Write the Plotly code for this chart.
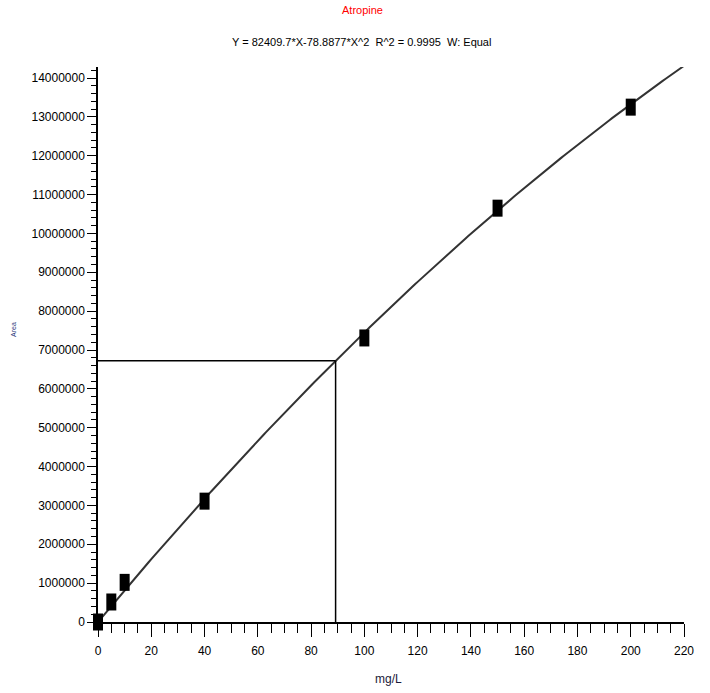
import numpy as np
import plotly.graph_objects as go

# Calibration standards (concentration in mg/L, peak area)
conc = [0, 5, 10, 40, 100, 150, 200]
area = [0, 515000, 1020000, 3110000, 7310000, 10650000, 13250000]

# Quadratic fit through origin: Y = b1*X + b2*X^2
b1 = 82409.7
b2 = -78.8877
r2 = 0.9995

# Unknown sample
sample_conc = 89.2

x_ticks = list(range(0, 221, 20))
y_ticks = list(range(0, 14000001, 1000000))

W, H = 710, 693
ML, MR, MT, MB = 78, 26, 67, 51
PAD = 20  # extra room so the marker boxes at the origin are not cut off
X_MAX = 220
Y_MAX = 14283000

plot_w = W - ML - MR
plot_h = H - MT - MB
main_w = plot_w - PAD
main_h = plot_h - PAD
dom_x0 = PAD / plot_w
dom_y0 = PAD / plot_h


def px(xp):
    return (xp - ML) / plot_w


def py(yp):
    return (H - MB - yp) / plot_h


fit_x = np.linspace(0, X_MAX, 221)
fit_y = b1 * fit_x + b2 * fit_x ** 2
sample_area = b1 * sample_conc + b2 * sample_conc ** 2

font = "Liberation Sans, Arial, sans-serif"

fig = go.Figure()
fig.add_trace(go.Scatter(
    x=fit_x, y=fit_y, mode="lines",
    line=dict(color="#333333", width=2),
    xaxis="x", yaxis="y", showlegend=False, hoverinfo="skip",
))

shapes = []
# sample crosshair
shapes.append(dict(type="line", xref="x", yref="y", x0=0, x1=sample_conc,
                   y0=sample_area, y1=sample_area, layer="above",
                   line=dict(color="black", width=1.5)))
shapes.append(dict(type="line", xref="x", yref="y", x0=sample_conc, x1=sample_conc,
                   y0=0, y1=sample_area, layer="above",
                   line=dict(color="black", width=1.5)))
# standards as filled boxes, drawn on the padded overlay axes
for cx, cy in zip(conc, area):
    shapes.append(dict(type="rect", xref="x2", yref="y2", layer="above",
                       xsizemode="pixel", xanchor=cx, x0=-5, x1=5,
                       ysizemode="pixel", yanchor=cy, y0=-8.5, y1=8.5,
                       fillcolor="black", line=dict(width=0)))

x2_lo = -PAD * X_MAX / main_w
y2_lo = -PAD * Y_MAX / main_h

tickfont = dict(family=font, size=12, color="black")

fig.update_layout(
    width=W, height=H,
    margin=dict(l=ML, r=MR, t=MT, b=MB, pad=0),
    paper_bgcolor="white", plot_bgcolor="rgba(0,0,0,0)",
    showlegend=False,
    xaxis=dict(domain=[dom_x0, 1], range=[0, X_MAX], anchor="y",
               tickvals=x_ticks, ticks="outside", ticklen=13, tickwidth=1.2,
               tickcolor="black", showline=True, linecolor="black", linewidth=1.5,
               showgrid=False, zeroline=False, tickfont=tickfont,
               ticklabelstandoff=4,
               minor=dict(dtick=5, tick0=0, ticks="outside", ticklen=9,
                          tickcolor="black", tickwidth=1.2)),
    yaxis=dict(domain=[dom_y0, 1], range=[0, Y_MAX], anchor="x",
               tickvals=y_ticks, tickformat="d", ticks="outside", ticklen=9,
               tickwidth=1.2, tickcolor="black", showline=True, linecolor="black",
               linewidth=1.5, showgrid=False, zeroline=False, tickfont=tickfont,
               minor=dict(dtick=200000, tick0=0, ticks="outside", ticklen=5,
                          tickcolor="black", tickwidth=1.2)),
    xaxis2=dict(domain=[0, 1], range=[x2_lo, X_MAX], anchor="y2", visible=False,
                fixedrange=True),
    yaxis2=dict(domain=[0, 1], range=[y2_lo, Y_MAX], anchor="x2", visible=False,
                fixedrange=True),
    shapes=shapes,
    annotations=[
        dict(text="Atropine", xref="paper", yref="paper", x=px(362), y=py(10),
             showarrow=False, font=dict(family=font, size=11, color="#ff0000"),
             xanchor="center", yanchor="middle"),
        dict(text="Y = %s*X%s*X^2  R^2 = %.4f  W: Equal" % (b1, b2, r2),
             xref="paper", yref="paper", x=px(361), y=py(42),
             showarrow=False, font=dict(family=font, size=11, color="black"),
             xanchor="center", yanchor="middle"),
        dict(text="mg/L", xref="paper", yref="paper", x=px(388), y=py(679),
             showarrow=False, font=dict(family=font, size=12, color="#1a1a3a"),
             xanchor="center", yanchor="middle"),
        dict(text="Area", xref="paper", yref="paper", x=px(13), y=py(330),
             showarrow=False, textangle=-90,
             font=dict(family=font, size=7, color="#2a3a7a"),
             xanchor="center", yanchor="middle"),
    ],
)

fig.write_html("out.html")
